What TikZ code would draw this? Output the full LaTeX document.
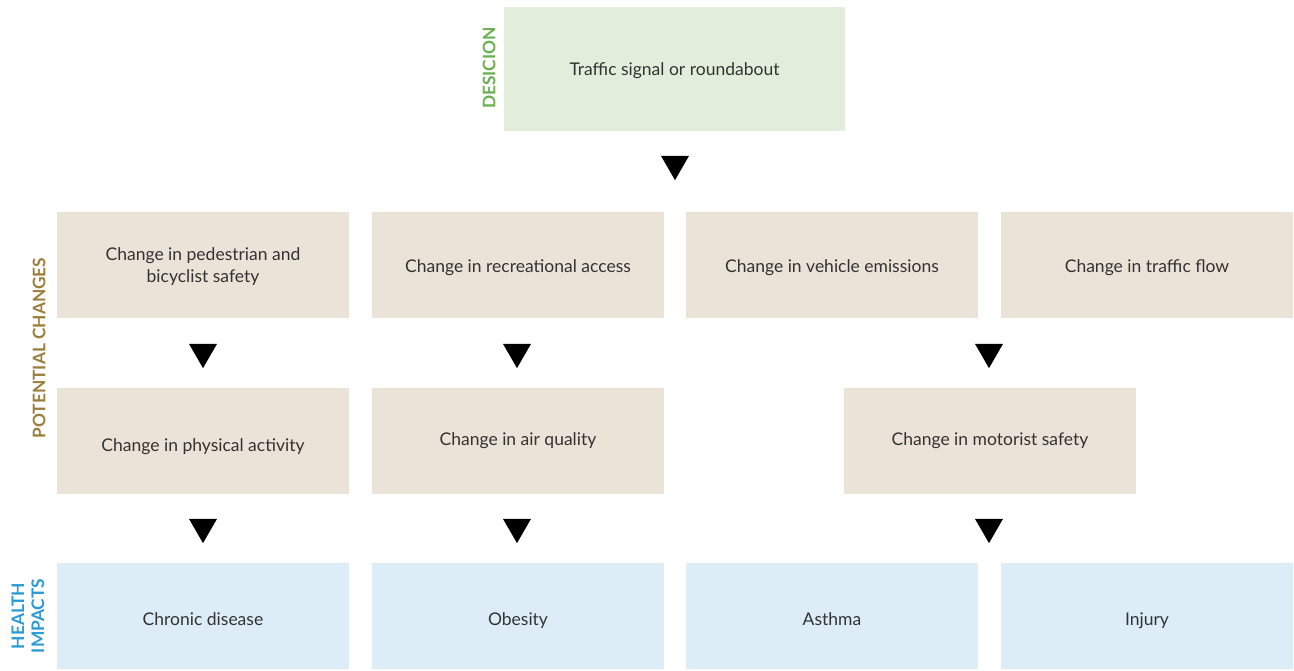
\documentclass[tikz,border=0pt]{standalone}
\usepackage{fontspec}
\setmainfont{Lato}
\usetikzlibrary{shapes.geometric}
\definecolor{decfill}{HTML}{E2EEDB}
\definecolor{chgfill}{HTML}{EBE3D7}
\definecolor{hltfill}{HTML}{DCEDF7}
\definecolor{bodytext}{HTML}{333333}
\definecolor{declabel}{HTML}{6AAF50}
\definecolor{chglabel}{HTML}{9C7E3C}
\definecolor{hltlabel}{HTML}{2A9AD6}
\tikzset{
  box/.style={minimum width=292pt, minimum height=106pt, inner sep=0pt},
  decbox/.style={box, fill=decfill, minimum width=341pt, minimum height=124pt},
  chgbox/.style={box, fill=chgfill},
  hltbox/.style={box, fill=hltfill},
  tri/.style={regular polygon, regular polygon sides=3, shape border rotate=180,
    fill=black, draw=none, minimum size=32.3pt, inner sep=0pt},
  rowlabel/.style={rotate=90, align=center, inner sep=0pt,
    font=\fontsize{17.3}{20}\selectfont\bfseries},
  lbl/.style={text=bodytext, align=center, inner sep=0pt,
    text height=12.5pt, text depth=3.5pt, font=\fontsize{17.5}{22}\selectfont},
}
\begin{document}
\begin{tikzpicture}[x=1pt, y=-1pt]
\useasboundingbox (0,0) rectangle (1294,671);

% decision
\node[decbox] (dec) at (674.5,69) {};
\node[lbl] (decT) at ([yshift=-2pt]dec.center) {Traffic signal or roundabout};

% potential changes, first row
\node[chgbox] (ped)  at (203,265)  {};
\node[chgbox] (rec)  at (518,265)  {};
\node[chgbox] (emi)  at (832,265)  {};
\node[chgbox] (flow) at (1147,265) {};
\node[lbl] (pedT)  at ([yshift=-13pt]ped.center)  {Change in pedestrian and\\bicyclist safety};
\node[lbl] (recT)  at ([yshift=-3pt]rec.center)  {Change in recreational access};
\node[lbl] (emiT)  at ([yshift=-3pt]emi.center)  {Change in vehicle emissions};
\node[lbl] (flowT) at ([yshift=-3pt]flow.center) {Change in traffic flow};

% potential changes, second row
\node[chgbox] (phys) at (203,441) {};
\node[chgbox] (air)  at (518,441) {};
\node[chgbox] (mot)  at (990,441) {};
\node[lbl] (physT) at ([yshift=-6pt]phys.center) {Change in physical activity};
\node[lbl] (airT)  at ([yshift=0pt]air.center)   {Change in air quality};
\node[lbl] (motT)  at ([yshift=0pt]mot.center)   {Change in motorist safety};

% health impacts
\node[hltbox] (chr) at (203,616)  {};
\node[hltbox] (obe) at (518,616)  {};
\node[hltbox] (ast) at (832,616)  {};
\node[hltbox] (inj) at (1147,616) {};
\node[lbl] (chrT) at ([yshift=-5pt]chr.center) {Chronic disease};
\node[lbl] (obeT) at ([yshift=-5pt]obe.center) {Obesity};
\node[lbl] (astT) at ([yshift=-5pt]ast.center) {Asthma};
\node[lbl] (injT) at ([yshift=-5pt]inj.center) {Injury};

% arrow heads between the rows
\node[tri] (t0) at (675,164) {};
\node[tri] (t1) at (203,352) {};
\node[tri] (t2) at (517,352) {};
\node[tri] (t3) at (989,352) {};
\node[tri] (t4) at (203,527) {};
\node[tri] (t5) at (517,527) {};
\node[tri] (t6) at (989,527) {};

% row labels
\node[rowlabel, text=declabel] (ldec) at (489,68) {DESICION};
\node[rowlabel, text=chglabel] (lchg) at (39,348) {POTENTIAL CHANGES};
\node[rowlabel, text=hltlabel] (lhlt) at (28,616) {HEALTH\\IMPACTS};
\end{tikzpicture}
\end{document}
